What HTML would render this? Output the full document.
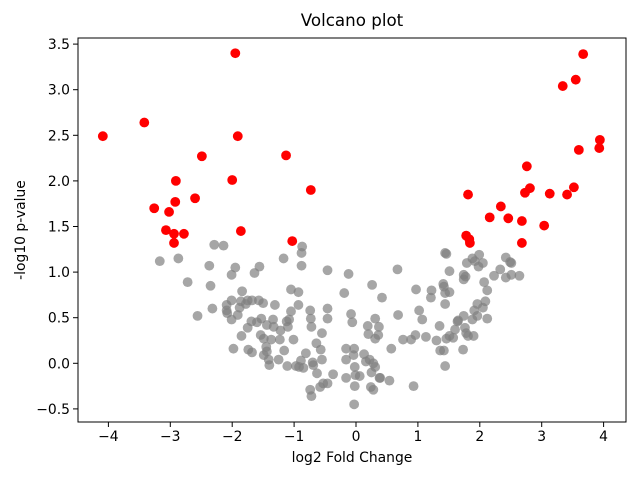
<!DOCTYPE html>
<html><head><meta charset="utf-8"><style>
body{margin:0;background:#fff;}
svg{display:block;font-family:"DejaVu Sans","Liberation Sans",sans-serif;}
</style></head><body>
<svg id="chart" width="640" height="480" xmlns="http://www.w3.org/2000/svg">
<rect width="640" height="480" fill="#fff"/>
<text x="352" y="26" text-anchor="middle" font-size="16.7">Volcano plot</text>
<g id="plot"></g>
<text x="352" y="462" text-anchor="middle" font-size="13.9">log2 Fold Change</text>
<text transform="translate(25,230) rotate(-90)" text-anchor="middle" font-size="13.9">-log10 p-value</text>
</svg>
<script>
const grayX=[-3.17,-2.87,-2.29,-2.14,-2.72,-2.37,-2.35,-2.56,-2.32,-1.95,-2.01,-1.56,-1.64,-1.84,-2.09,-2.01,-2.09,-2.08,-2.01,-1.91,-1.88,-1.86,-1.78,-1.75,-1.68,-1.57,-1.50,-1.31,-1.75,-1.69,-1.60,-1.53,-1.44,-1.34,-1.33,-1.37,-1.22,-1.23,-1.54,-1.49,-1.85,-1.98,-1.74,-1.68,-1.49,-1.45,-1.44,-1.41,-1.40,-1.25,-1.16,-1.11,-1.01,-1.12,-1.10,-1.08,-1.05,-0.93,-1.05,-0.93,-1.17,-0.87,-0.88,-0.88,-0.97,-0.92,-0.85,-0.89,-0.81,-0.74,-0.73,-0.72,-0.70,-0.69,-0.63,-0.64,-0.57,-0.55,-0.55,-0.74,-0.72,-0.58,-0.53,-0.46,-0.37,-0.46,-0.46,-0.46,-0.19,-0.12,-0.08,-0.06,-0.16,-0.16,-0.16,-0.03,-0.04,-0.02,-0.01,-0.02,-0.03,
0.13,0.16,0.22,0.28,0.31,0.25,0.06,0.24,0.28,0.38,0.39,0.54,0.93,0.26,0.42,0.31,0.19,0.37,0.20,0.31,0.36,0.57,0.67,0.68,0.76,0.89,0.96,0.97,1.02,1.07,1.13,1.22,1.21,1.30,1.35,1.36,1.42,1.44,1.41,1.42,1.44,1.46,1.44,1.51,1.44,1.46,1.51,1.57,1.60,1.64,1.65,1.73,1.74,1.76,1.78,1.81,1.90,1.88,1.91,1.96,1.96,2.05,2.09,2.12,1.74,1.74,1.77,1.51,1.79,1.88,1.99,1.92,1.98,2.05,2.07,2.12,2.23,2.33,2.42,2.49,2.51,2.42,2.51,2.64];
const grayY=[1.12,1.15,1.30,1.29,0.89,1.07,0.85,0.52,0.60,1.05,0.97,1.06,0.99,0.79,0.64,0.69,0.58,0.55,0.48,0.53,0.61,0.68,0.65,0.69,0.69,0.69,0.66,0.64,0.39,0.46,0.45,0.49,0.42,0.48,0.40,0.26,0.36,0.26,0.31,0.27,0.30,0.16,0.15,0.12,0.09,0.18,0.13,0.04,-0.02,0.04,0.14,-0.03,0.26,0.46,0.40,0.48,0.57,0.64,0.81,0.78,1.15,1.28,1.21,1.07,-0.03,-0.04,-0.05,0.03,0.11,0.58,0.49,0.40,0.01,-0.02,-0.11,0.22,0.15,0.04,0.33,-0.29,-0.36,-0.26,-0.22,-0.22,-0.12,0.60,0.49,1.02,0.77,0.98,0.54,0.45,0.16,0.04,-0.16,0.16,0.09,-0.04,-0.13,-0.25,-0.45,
0.10,0.02,0.04,0.00,-0.04,-0.10,-0.14,-0.26,-0.29,-0.16,-0.16,-0.19,-0.25,0.86,0.72,0.49,0.41,0.40,0.32,0.27,0.31,0.16,1.03,0.53,0.26,0.26,0.31,0.81,0.58,0.48,0.29,0.80,0.72,0.25,0.41,0.14,0.14,-0.03,0.87,0.84,1.21,1.20,0.77,0.78,0.65,0.27,0.30,0.28,0.37,0.46,0.47,0.15,0.52,0.39,0.33,0.30,0.30,0.48,0.58,0.65,0.52,0.61,0.68,0.49,0.92,0.97,0.95,1.01,1.10,1.15,1.19,1.12,1.06,1.10,0.89,0.80,0.96,1.03,1.16,1.11,1.10,0.94,0.97,0.96];
const redX=[-4.09,-3.42,-3.26,-3.07,-3.02,-2.92,-2.91,-2.94,-2.94,-2.78,-2.60,-2.49,-2.00,-1.95,-1.91,-1.86,-1.13,-1.03,-0.73,1.78,1.83,1.84,1.81,2.16,2.34,2.46,2.68,2.68,2.73,2.76,2.81,3.04,3.13,3.34,3.41,3.52,3.55,3.60,3.67,3.93,3.94];
const redY=[2.49,2.64,1.70,1.46,1.66,1.77,2.00,1.42,1.32,1.42,1.81,2.27,2.01,3.40,2.49,1.45,2.28,1.34,1.90,1.40,1.36,1.32,1.85,1.60,1.72,1.59,1.56,1.32,1.87,2.16,1.92,1.51,1.86,3.04,1.85,1.93,3.11,2.34,3.39,2.36,2.45];
const xTicks=[-4,-3,-2,-1,0,1,2,3,4];
const yTicks=[-0.5,0.0,0.5,1.0,1.5,2.0,2.5,3.0,3.5];

const L=78,R=626,T=38,B=422;
const sx=v=>356+v*61.9;
const sy=v=>363.3-v*91.2;
const NS='http://www.w3.org/2000/svg';
const g=document.getElementById('plot');
function mk(tag,attrs){const e=document.createElementNS(NS,tag);for(const k in attrs)e.setAttribute(k,attrs[k]);g.appendChild(e);return e;}
for(let i=0;i<grayX.length;i++){
  const c=mk('circle',{cx:sx(grayX[i]),cy:sy(grayY[i]),r:4.9,fill:'#808080','fill-opacity':0.7});
  
  
}
for(let i=0;i<redX.length;i++){
  const c=mk('circle',{cx:sx(redX[i]),cy:sy(redY[i]),r:4.9,fill:'#ff0000'});
  
  
}
const fr=mk('rect',{x:L,y:T,width:R-L,height:B-T,fill:'none',stroke:'#000','stroke-width':1});


xTicks.forEach(t=>{
  const x=sx(t);
  const l=mk('line',{x1:x,x2:x,y1:B,y2:B+5,stroke:'#000'});
  
  
  const tx=mk('text',{x:x,y:B+19,'text-anchor':'middle','font-size':13.9});
  tx.textContent=(t<0?'\u2212':'')+Math.abs(t);
  
  
});
yTicks.forEach(t=>{
  const y=sy(t);
  const l=mk('line',{x1:L-5,x2:L,y1:y,y2:y,stroke:'#000'});
  
  
  const tx=mk('text',{x:L-8,y:y+5,'text-anchor':'end','font-size':13.9});
  tx.textContent=(t<0?'\u2212':'')+Math.abs(t).toFixed(1);
  
  
});
</script>
</body></html>
